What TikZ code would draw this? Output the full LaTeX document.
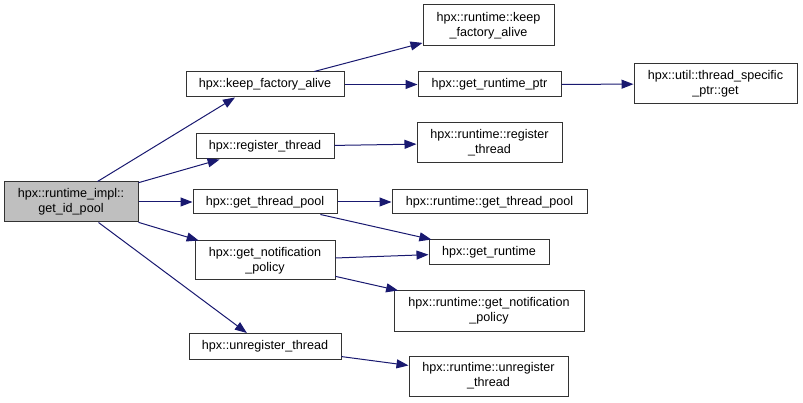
\documentclass[tikz,border=0pt]{standalone}
\usepackage{fontspec}
\setmainfont{Liberation Sans}
\usetikzlibrary{arrows.meta,positioning}
\definecolor{edgeblue}{HTML}{191970}
\definecolor{rootgray}{HTML}{BFBFBF}
\tikzset{
fnbox/.style args = {#1/#2}{
            draw=black!80, line width=1pt,
            minimum width=#1pt, minimum height=#2pt,
            inner sep=0pt, align=center,
            font=\fontsize{12.6}{15}\selectfont},
call/.style={draw=edgeblue, line width=1pt,
            -{Triangle[length=12pt,width=9pt,fill=edgeblue]}}
}

\begin{document}
\begin{tikzpicture}[x=1pt,y=-1pt]
  \useasboundingbox (0,0) rectangle (803,403);

  % caller
  \node[fnbox=134/40, fill=rootgray] (root) at (71,202) {hpx::runtime\_impl::\\get\_id\_pool};

  % first level
  \node[fnbox=158/25] (kfa)  at (265,84.5)  {hpx::keep\_factory\_alive};
  \node[fnbox=138/25] (reg)  at (265,146.5) {hpx::register\_thread};
  \node[fnbox=144/24] (gtp)  at (265,202)   {hpx::get\_thread\_pool};
  \node[fnbox=140/39] (gnp)  at (265,260.5) {hpx::get\_notification\\\_policy};
  \node[fnbox=152/26] (ureg) at (265,346.5) {hpx::unregister\_thread};

  % second level
  \node[fnbox=131/41] (rkfa)  at (488.5,25.5) {hpx::runtime::keep\\\_factory\_alive};
  \node[fnbox=143/25] (grp)   at (489.5,84.5) {hpx::get\_runtime\_ptr};
  \node[fnbox=145/40] (rreg)  at (489.5,143)  {hpx::runtime::register\\\_thread};
  \node[fnbox=195/24] (rgtp)  at (489.5,202)  {hpx::runtime::get\_thread\_pool};
  \node[fnbox=120/25] (grt)   at (489,252.5)  {hpx::get\_runtime};
  \node[fnbox=190/40] (rgnp)  at (489,311)    {hpx::runtime::get\_notification\\\_policy};
  \node[fnbox=159/40] (rureg) at (488.5,376)  {hpx::runtime::unregister\\\_thread};

  % third level
  \node[fnbox=163/40] (tsg) at (715.5,84) {hpx::util::thread\_specific\\\_ptr::get};

  % calls
  \draw[call] ([xshift=-41pt]root.north east) -- ([xshift=-30pt]kfa.south);
  \foreach \a/\b in {root/reg, root/gtp, root/gnp, root/ureg,
                     kfa/rkfa, kfa/grp, grp/tsg, reg/rreg,
                     gtp/rgtp, gtp/grt, gnp/grt, gnp/rgnp, ureg/rureg}
    \draw[call] (\a) -- (\b);

\end{tikzpicture}
\end{document}
